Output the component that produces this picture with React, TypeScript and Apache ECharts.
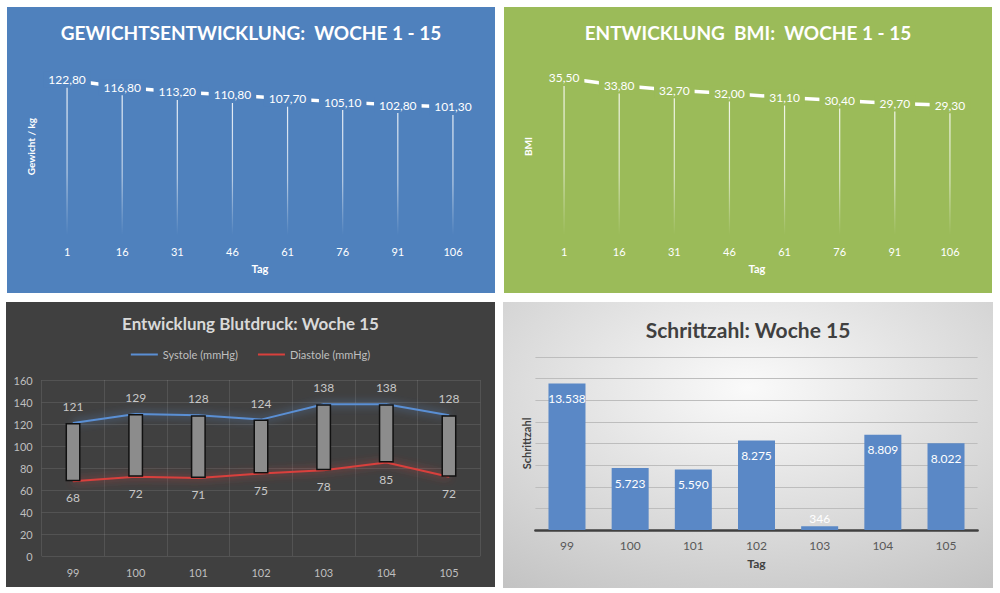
import React, { useEffect, useRef } from "react";
import * as echarts from "echarts";

// ---------- data ----------
const dayCats = ["1", "16", "31", "46", "61", "76", "91", "106"];
const weight = [122.8, 116.8, 113.2, 110.8, 107.7, 105.1, 102.8, 101.3];
const bmi = [35.5, 33.8, 32.7, 32.0, 31.1, 30.4, 29.7, 29.3];

const weekDays = ["99", "100", "101", "102", "103", "104", "105"];
const systole = [121, 129, 128, 124, 138, 138, 128];
const diastole = [68, 72, 71, 75, 78, 85, 72];

const steps = [13538, 5723, 5590, 8275, 346, 8809, 8022];

const FONT = "Lato, 'Open Sans', sans-serif";

const deDec = (v: number) => v.toFixed(2).replace(".", ",");
const deThousands = (v: number) =>
  String(Math.round(v)).replace(/\B(?=(\d{3})+(?!\d))/g, ".");

function trendOption(
  title: string,
  bg: string,
  yName: string,
  values: number[],
  yMax: number
): any {
  return {
    animation: false,
    backgroundColor: bg,
    textStyle: { fontFamily: FONT },
    title: {
      text: title,
      left: "center",
      top: 11,
      textStyle: {
        color: "#ffffff",
        fontSize: 19,
        fontWeight: "bold",
        fontFamily: FONT,
      },
    },
    grid: { left: 32.5, right: 14.5, top: 51, bottom: 58 },
    xAxis: {
      type: "category",
      data: dayCats,
      axisLine: { show: false },
      axisTick: { show: false },
      axisLabel: { color: "#ffffff", fontSize: 11, margin: 11, fontFamily: FONT },
      name: "Tag",
      nameLocation: "middle",
      nameGap: 28,
      nameTextStyle: { color: "#ffffff", fontSize: 11, fontWeight: "bold", fontFamily: FONT },
    },
    yAxis: {
      type: "value",
      min: 0,
      max: yMax,
      axisLine: { show: false },
      axisTick: { show: false },
      axisLabel: { show: false },
      splitLine: { show: false },
      name: yName,
      nameLocation: "middle",
      nameGap: 4,
      nameTextStyle: { color: "#ffffff", fontSize: 10, fontWeight: "bold", fontFamily: FONT },
    },
    series: [
      {
        type: "bar",
        data: values,
        barWidth: 1.2,
        silent: true,
        itemStyle: {
          color: {
            type: "linear",
            x: 0,
            y: 0,
            x2: 0,
            y2: 1,
            colorStops: [
              { offset: 0, color: "rgba(255,255,255,0.9)" },
              { offset: 0.6, color: "rgba(255,255,255,0.6)" },
              { offset: 1, color: "rgba(255,255,255,0)" },
            ],
          },
        },
      },
      {
        type: "line",
        data: values,
        symbol: "circle",
        symbolSize: 1,
        showSymbol: true,
        itemStyle: { color: "#ffffff" },
        lineStyle: { color: "#ffffff", width: 3.5 },
        label: {
          show: true,
          position: "inside",
          formatter: (p: any) => deDec(p.value),
          color: "#ffffff",
          fontSize: 12,
          fontFamily: FONT,
          backgroundColor: bg,
          padding: [2, 5],
        },
        labelLayout: { hideOverlap: false },
        z: 3,
      },
    ],
  };
}

const bpOption: any = {
  animation: false,
  backgroundColor: "#404040",
  textStyle: { fontFamily: FONT },
  title: {
    text: "Entwicklung Blutdruck: Woche 15",
    left: "center",
    top: 8,
    textStyle: { color: "#d9d9d9", fontSize: 17, fontWeight: "bold", fontFamily: FONT },
  },
  legend: {
    data: ["Systole (mmHg)", "Diastole (mmHg)"],
    top: 42,
    left: "center",
    icon: "rect",
    itemWidth: 27,
    itemHeight: 2,
    itemGap: 20,
    textStyle: { color: "#bfbfbf", fontSize: 11, fontFamily: FONT },
  },
  grid: { left: 35.7, right: 14.7, top: 78, bottom: 31 },
  xAxis: {
    type: "category",
    data: weekDays,
    axisLine: { show: false },
    axisTick: { show: false },
    axisLabel: { color: "#bfbfbf", fontSize: 11, margin: 11, fontFamily: FONT },
    splitLine: { show: true, lineStyle: { color: "rgba(255,255,255,0.1)", width: 1 } },
  },
  yAxis: {
    type: "value",
    min: 0,
    max: 160,
    interval: 20,
    axisLine: { show: false },
    axisTick: { show: false },
    axisLabel: { color: "#bfbfbf", fontSize: 11, margin: 9, fontFamily: FONT },
    splitLine: { lineStyle: { color: "rgba(255,255,255,0.1)", width: 1 } },
  },
  series: [
    {
      name: "base",
      type: "bar",
      stack: "bp",
      data: diastole,
      barWidth: 15,
      silent: true,
      itemStyle: { color: "rgba(0,0,0,0)" },
    },
    {
      name: "range",
      type: "bar",
      stack: "bp",
      data: systole.map((s, i) => s - diastole[i]),
      barWidth: 15,
      itemStyle: { color: "#8c8c8c", borderColor: "#111111", borderWidth: 1.5 },
    },
    {
      name: "Systole (mmHg)",
      type: "line",
      data: systole,
      symbol: "circle",
      symbolSize: 1,
      showSymbol: true,
      color: "#5a8fd4",
      itemStyle: { color: "#5a8fd4" },
      lineStyle: {
        color: "#5a8fd4",
        width: 2,
        shadowColor: "rgba(90,143,212,0.9)",
        shadowBlur: 8,
      },
      label: {
        show: true,
        position: "top",
        distance: 10,
        color: "#c8c8c8",
        fontSize: 12,
        fontFamily: FONT,
      },
      labelLayout: { hideOverlap: false },
      z: 1,
    },
    {
      name: "Diastole (mmHg)",
      type: "line",
      data: diastole,
      symbol: "circle",
      symbolSize: 1,
      showSymbol: true,
      color: "#d9403c",
      itemStyle: { color: "#d9403c" },
      lineStyle: {
        color: "#d9403c",
        width: 2,
        shadowColor: "rgba(217,64,60,0.9)",
        shadowBlur: 8,
      },
      label: {
        show: true,
        position: "bottom",
        distance: 10,
        color: "#c8c8c8",
        fontSize: 12,
        fontFamily: FONT,
      },
      labelLayout: { hideOverlap: false },
      z: 1,
    },
  ],
};

const stepsOption: any = {
  animation: false,
  backgroundColor: {
    type: "radial",
    x: 0.5,
    y: 0.3,
    r: 0.95,
    colorStops: [
      { offset: 0, color: "#fafafa" },
      { offset: 1, color: "#bdbdbd" },
    ],
  },
  textStyle: { fontFamily: FONT },
  title: {
    text: "Schrittzahl: Woche 15",
    left: "center",
    top: 12,
    textStyle: { color: "#404040", fontSize: 21, fontWeight: "bold", fontFamily: FONT },
  },
  grid: { left: 32.4, right: 15.4, top: 55, bottom: 58 },
  xAxis: {
    type: "category",
    data: weekDays,
    axisLine: { show: true, lineStyle: { color: "#404040", width: 2.5 } },
    axisTick: { show: false },
    axisLabel: { color: "#595959", fontSize: 12, margin: 9, fontFamily: FONT },
    name: "Tag",
    nameLocation: "middle",
    nameGap: 27,
    nameTextStyle: { color: "#404040", fontSize: 12, fontWeight: "bold", fontFamily: FONT },
  },
  yAxis: {
    type: "value",
    min: 0,
    max: 16000,
    interval: 2000,
    axisLine: { show: false },
    axisTick: { show: false },
    axisLabel: { show: false },
    splitLine: { lineStyle: { color: "#bdbdbd", width: 1 } },
    name: "Schrittzahl",
    nameLocation: "middle",
    nameGap: 3,
    nameTextStyle: { color: "#404040", fontSize: 11, fontWeight: "bold", fontFamily: FONT },
  },
  series: [
    {
      type: "bar",
      data: steps.map((v) =>
        v < 1000 ? { value: v, label: { position: "top", distance: 2 } } : v
      ),
      barWidth: 37,
      itemStyle: { color: "#5a88c6" },
      label: {
        show: true,
        position: "insideTop",
        distance: 9,
        color: "#ffffff",
        fontSize: 12,
        fontFamily: FONT,
        formatter: (p: any) => deThousands(p.value),
      },
    },
  ],
};

function Panel({ option, style }: { option: any; style: React.CSSProperties }) {
  const ref = useRef<HTMLDivElement>(null);
  useEffect(() => {
    if (!ref.current) return;
    const chart = echarts.init(ref.current, undefined, { renderer: "svg" });
    chart.setOption(option);
    return () => chart.dispose();
  }, [option]);
  return <div ref={ref} style={{ position: "absolute", ...style }} />;
}

const weightOption = trendOption(
  "GEWICHTSENTWICKLUNG:  WOCHE 1 - 15",
  "#4f81bd",
  "Gewicht / kg",
  weight,
  140
);
const bmiOption = trendOption(
  "ENTWICKLUNG  BMI:  WOCHE 1 - 15",
  "#9bbb59",
  "BMI",
  bmi,
  40
);

export default function App() {
  return (
    <div
      style={{
        position: "absolute",
        left: 0,
        top: 0,
        width: 1000,
        height: 593,
        background: "#ffffff",
        overflow: "hidden",
      }}
    >
      <Panel option={weightOption} style={{ left: 7, top: 7, width: 488, height: 286 }} />
      <Panel option={bmiOption} style={{ left: 504, top: 7, width: 488, height: 286 }} />
      <Panel option={bpOption} style={{ left: 6, top: 302, width: 489, height: 285 }} />
      <Panel option={stepsOption} style={{ left: 503, top: 302, width: 490, height: 286 }} />
    </div>
  );
}
